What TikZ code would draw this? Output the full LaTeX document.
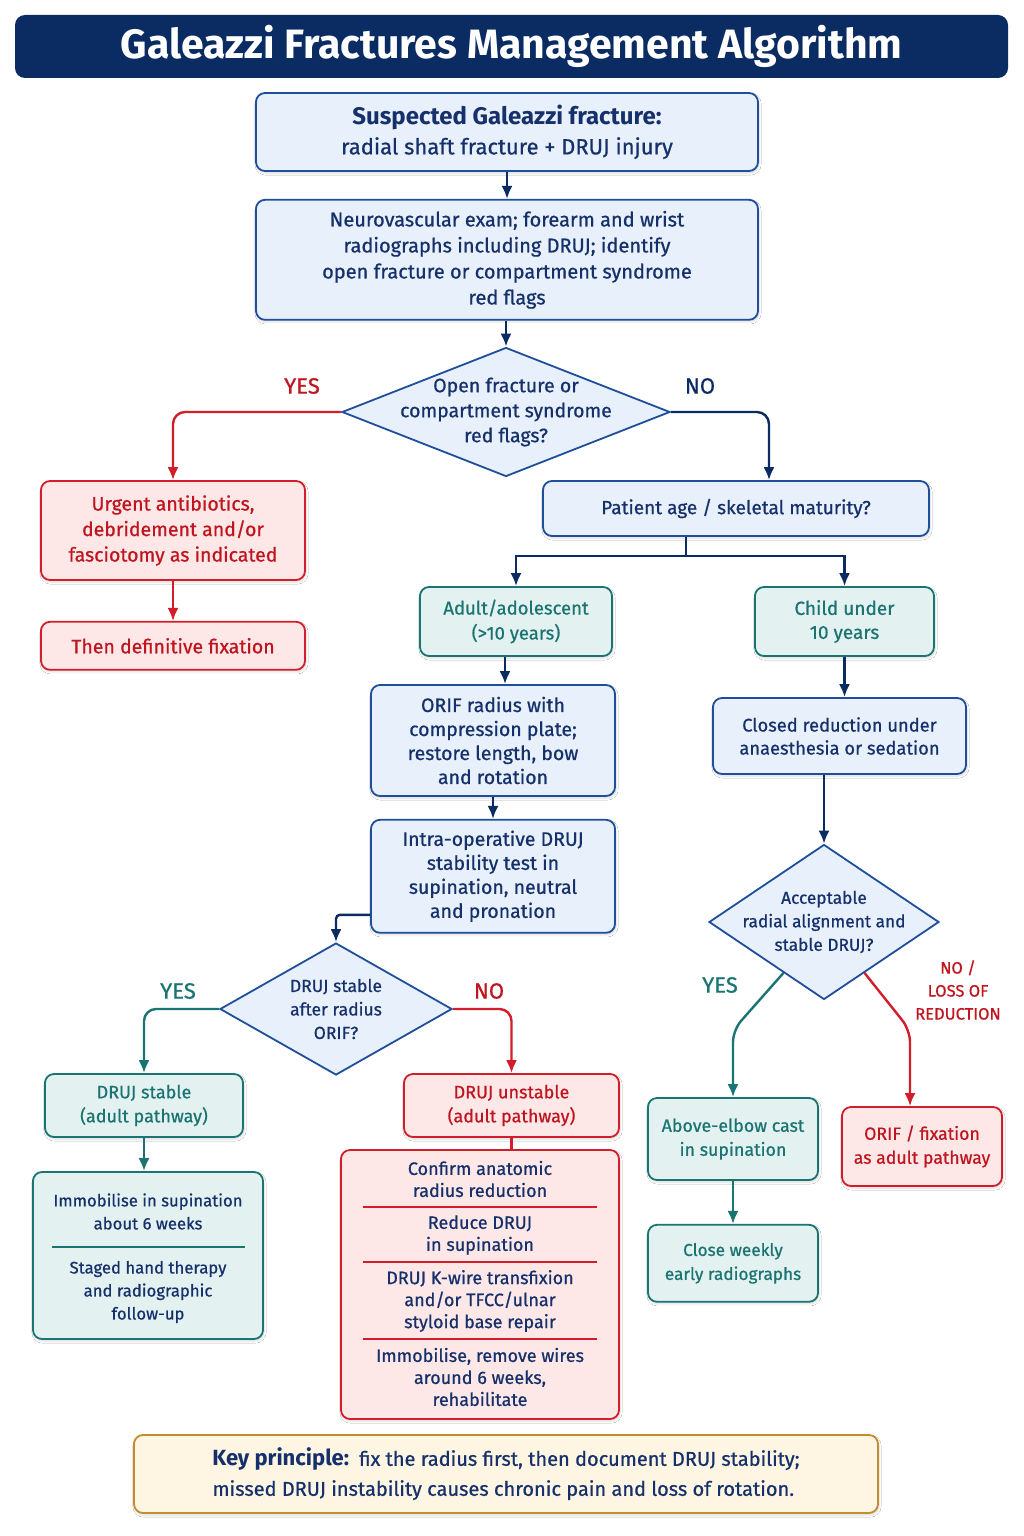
\documentclass[tikz,border=0pt]{standalone}
\usepackage{fontspec}
\setmainfont{Fira Sans}[UprightFeatures={FakeBold=0.7}]
\usepackage{tikz}
\usetikzlibrary{arrows.meta,calc,positioning,shapes.geometric,shadows.blur}
\definecolor{navy}{HTML}{0B2C63}
\definecolor{ink}{HTML}{15306A}
\definecolor{bline}{HTML}{1F4E9B}
\definecolor{bfill}{HTML}{E7F0FB}
\definecolor{rline}{HTML}{D21E2B}
\definecolor{rfill}{HTML}{FDE7E7}
\definecolor{rtext}{HTML}{C0141E}
\definecolor{tline}{HTML}{1A7472}
\definecolor{tfill}{HTML}{E3F1F0}
\definecolor{yline}{HTML}{C38C2E}
\definecolor{yfill}{HTML}{FEF6E3}
\tikzset{
	box/.style={rectangle,rounded corners=9pt,line width=1.8pt,align=center,inner sep=0pt,blur shadow={shadow blur steps=10,shadow xshift=1pt,shadow yshift=-2pt,shadow opacity=15}},
	br/.style={box,draw=bline,fill=bfill,text=ink},
	rr/.style={box,draw=rline,fill=rfill,text=rtext},
	tr/.style={box,draw=tline,fill=tfill,text=tline},
	yr/.style={box,draw=yline,fill=yfill,text=ink},
	bd/.style={diamond,line width=1.8pt,draw=bline,fill=bfill,inner sep=0pt},
	qt/.style={text=ink,align=center},
	titlebar/.style={rectangle,rounded corners=10pt,fill=navy,text=white,font=\fontsize{41}{44}\selectfont\bfseries},
	yn/.style={font=\fontsize{22}{24}\selectfont},
	arrn/.style={-{Latex[length=13pt,width=11pt]},line width=2.4pt,draw=navy,rounded corners=12pt},
	arrr/.style={-{Latex[length=13pt,width=11pt]},line width=2.4pt,draw=rline,rounded corners=12pt},
	arrt/.style={-{Latex[length=13pt,width=11pt]},line width=2.4pt,draw=tline,rounded corners=12pt},
	sep/.style={line width=1.4pt}
}
\begin{document}
\begin{tikzpicture}[x=1pt,y=-1pt,every node/.style={font=\fontsize{19}{24}\selectfont}]
    \path[use as bounding box,fill=white] (0,0) rectangle (1024,1536);
    \node (title) [titlebar,minimum width=993pt,minimum height=63pt] at (511.5,46.5) {Galeazzi Fractures Management Algorithm};

    % main trunk
    \node (susp) [br,minimum width=502pt,minimum height=78pt,font=\fontsize{22}{30}\selectfont] at (507,132) {{\fontsize{24}{30}\selectfont\bfseries Suspected Galeazzi fracture:}\\radial shaft fracture + DRUJ injury};
    \node (exam) [br,minimum width=502pt,minimum height=120pt,below=27pt of susp,font=\fontsize{20}{26}\selectfont] {Neurovascular exam; forearm and wrist\\radiographs including DRUJ; identify\\open fracture or compartment syndrome\\red flags};
    \node (q1) [bd,minimum width=328pt,minimum height=129pt,label={[qt,font=\fontsize{19.5}{25}\selectfont]center:Open fracture or\\compartment syndrome\\red flags?}] at (506,412) {};

    % open / red flag branch
    \node (urg) [rr,minimum width=264pt,minimum height=99pt,font=\fontsize{19.5}{25.5}\selectfont] at (173,530.5) {Urgent antibiotics,\\debridement and/or\\fasciotomy as indicated};
    \node (defx) [rr,minimum width=264pt,minimum height=48pt,below=40pt of urg,font=\fontsize{19.5}{25}\selectfont] {Then definitive fixation};

    % age split
    \node (pat) [br,minimum width=386pt,minimum height=55pt] at (736,508.5) {Patient age / skeletal maturity?};
    \node (adult) [tr,minimum width=192pt,minimum height=69pt,font=\fontsize{18.5}{25}\selectfont] at (516,621.5) {Adult/adolescent\\(>10 years)};
    \node (child) [tr,minimum width=179pt,minimum height=69pt,font=\fontsize{19}{24}\selectfont] at (844.5,621.5) {Child under\\10 years};

    % adult pathway
    \node (orif) [br,minimum width=244pt,minimum height=111pt,font=\fontsize{19.5}{24}\selectfont] at (493,740.5) {ORIF radius with\\compression plate;\\restore length, bow\\and rotation};
    \node (intra) [br,minimum width=244pt,minimum height=113pt,below=22pt of orif,font=\fontsize{19.5}{24}\selectfont] {Intra-operative DRUJ\\stability test in\\supination, neutral\\and pronation};
    \node (q2) [bd,minimum width=232pt,minimum height=132pt,label={[qt,font=\fontsize{17.5}{23.5}\selectfont]center:DRUJ stable\\after radius\\ORIF?}] at (336,1009) {};
    \node (stab) [tr,minimum width=198pt,minimum height=63pt,font=\fontsize{18}{24}\selectfont] at (144,1105.5) {DRUJ stable\\(adult pathway)};
    \node (unst) [rr,minimum width=215pt,minimum height=63pt,font=\fontsize{18}{24}\selectfont] at (511.5,1105.5) {DRUJ unstable\\(adult pathway)};
    \node (imm) [tr,minimum width=230pt,minimum height=167pt] at (148,1255.5) {};
    \node (imm1) [qt,font=\fontsize{16.7}{23}\selectfont] at (148,1211.5) {Immobilise in supination\\about 6 weeks};
    \node (imm2) [qt,font=\fontsize{16.7}{23}\selectfont] at (148,1292) {Staged hand therapy\\and radiographic\\follow-up};
    \draw[sep,tline] (52,1247) -- (245,1247);
    \node (steps) [rr,minimum width=278pt,minimum height=269pt] at (480,1284.5) {};
    \node (s1) [qt,font=\fontsize{18}{22}\selectfont] at (480,1179) {Confirm anatomic\\radius reduction};
    \node (s2) [qt,font=\fontsize{18}{22}\selectfont] at (480,1235) {Reduce DRUJ\\in supination};
    \node (s3) [qt,font=\fontsize{18}{22}\selectfont] at (480,1301) {DRUJ K-wire transfixion\\and/or TFCC/ulnar\\styloid base repair};
    \node (s4) [qt,font=\fontsize{18}{22}\selectfont] at (480,1377) {Immobilise, remove wires\\around 6 weeks,\\rehabilitate};
    \draw[sep,rline] (363,1207) -- (597,1207);
    \draw[sep,rline] (363,1262) -- (597,1262);
    \draw[sep,rline] (363,1339) -- (597,1339);

    % child pathway
    \node (closed) [br,minimum width=253pt,minimum height=76pt,font=\fontsize{18.3}{23}\selectfont] at (839.5,736) {Closed reduction under\\anaesthesia or sedation};
    \node (q3) [bd,minimum width=230pt,minimum height=155pt,label={[qt,font=\fontsize{17.3}{23.5}\selectfont]center:Acceptable\\radial alignment and\\stable DRUJ?}] at (824,922) {};
    \node (above) [tr,minimum width=170pt,minimum height=82pt,font=\fontsize{17.8}{24}\selectfont] at (733,1139) {Above-elbow cast\\in supination};
    \node (weekly) [tr,minimum width=170pt,minimum height=77pt,below=43pt of above,font=\fontsize{17.2}{24}\selectfont] {Close weekly\\early radiographs};
    \node (orfx) [rr,minimum width=160pt,minimum height=79pt,font=\fontsize{17.7}{24}\selectfont] at (922,1146.5) {ORIF / fixation\\as adult pathway};

    \node (key) [yr,minimum width=744pt,minimum height=78pt,align=left,font=\fontsize{20}{30}\selectfont] at (506,1474) {{\fontsize{22}{30}\selectfont\bfseries Key principle:}\enspace fix the radius first, then document DRUJ stability;\\missed DRUJ instability causes chronic pain and loss of rotation.};

    % branch labels
    \node (yes1) [yn,text=rtext] at (302,386) {YES};
    \node (no1) [yn,text=navy] at (700,386) {NO};
    \node (yes2) [yn,text=tline] at (178,991) {YES};
    \node (no2) [yn,text=rtext] at (489,991) {NO};
    \node (yes3) [yn,text=tline] at (720,985) {YES};
    \node (no3) [text=rtext,align=center,font=\fontsize{16.5}{23}\selectfont] at (958,990) {NO /\\LOSS OF\\REDUCTION};

    % connectors
    \coordinate (fork) at (686,556);
    \coordinate (ax) at (505,0);
    \coordinate (ybend) at (733,1030);
    \coordinate (nbend) at (910,1030);
    \draw[arrn] (susp) -- (exam);
    \draw[arrn] (exam.south -| q1.north) -- (q1.north);
    \draw[arrr] (q1.west) -| (urg.north);
    \draw[arrr] (urg) -- (defx);
    \draw[arrn] (q1.east) -| ($(pat.north)+(33,0)$);
    \draw[line width=2.4pt,navy] (pat.south -| fork) -- (fork);
    \draw[arrn,sharp corners] (fork) -| (adult.north);
    \draw[arrn,sharp corners] (fork) -| (child.north);
    \draw[arrn] (adult.south -| ax) -- (orif.north -| ax);
    \draw[arrn] (orif) -- (intra);
    \draw[arrn,rounded corners=4pt] ([yshift=-38.5pt]intra.west) -| (q2.north);
    \draw[arrt] (q2.west) -| (stab.north);
    \draw[arrr] (q2.east) -| (unst.north);
    \draw[arrt] (stab.south) -- (stab.south |- imm.north);
    \draw[line width=2.4pt,rline] (unst.south) -- (unst.south |- steps.north);
    \draw[arrn] (child.south) -- (child.south |- closed.north);
    \draw[arrn] (closed.south -| q3.north) -- (q3.north);
    \draw[arrt] ($(q3.south)!0.35!(q3.west)$) -- (ybend) -- (above.north);
    \draw[arrr] ($(q3.south)!0.35!(q3.east)$) -- (nbend) -- (orfx.north -| nbend);
    \draw[arrt] (above) -- (weekly);
\end{tikzpicture}
\end{document}
